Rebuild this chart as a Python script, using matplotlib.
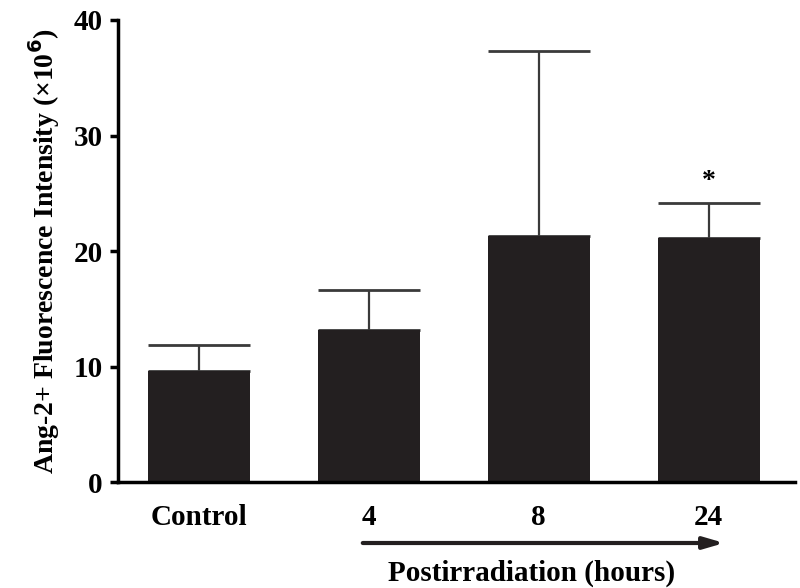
import matplotlib
matplotlib.use("Agg")
import matplotlib.pyplot as plt

groups = ["Control", "4", "8", "24"]
means = [9.6, 13.2, 21.3, 21.1]
errs = [2.3, 3.4, 16.0, 3.1]
stars = ["", "", "", "*"]

plt.rcParams['font.family'] = ['Liberation Serif', 'DejaVu Serif']
plt.rcParams['font.weight'] = 'bold'

fig = plt.figure(figsize=(8, 5.88), dpi=100)
ax = fig.add_axes([0.1475, 0.18, 0.8465, 0.786])

xs = range(len(groups))
ax.bar(xs, means, width=0.6, color="#231f20", zorder=2)
ax.errorbar(xs, means, yerr=[[0] * len(errs), errs], fmt="none",
            ecolor="#3a3a3a", elinewidth=1.6, capsize=37, capthick=2, zorder=1)
for x, m, e, s in zip(xs, means, errs, stars):
    if s:
        ax.text(x, m + e + 0.7, s, ha="center", va="bottom", fontsize=20)

ax.set_xlim(-0.476, 3.51)
ax.set_ylim(0, 40)
ax.set_yticks([0, 10, 20, 30, 40])
ax.set_xticks(list(xs))
ax.set_xticklabels(groups, fontsize=21, fontweight="bold")
ax.tick_params(axis="x", length=0, pad=16)
ax.tick_params(axis="y", length=6, width=2.5, labelsize=21, pad=5)
for lab in ax.get_yticklabels():
    lab.set_fontweight("bold")

for side in ["top", "right"]:
    ax.spines[side].set_visible(False)
ax.spines["left"].set_linewidth(2.5)
ax.spines["bottom"].set_linewidth(2.5)

ax.set_ylabel(r"Ang-2+ Fluorescence Intensity (×10$^{\mathbf{6}}$)",
              fontsize=20, fontweight="bold", labelpad=8)

# arrow under the time points
ax.annotate("", xy=(727 / 800, 1 - 543 / 588), xytext=(360 / 800, 1 - 543 / 588),
            xycoords="figure fraction", textcoords="figure fraction",
            arrowprops=dict(arrowstyle="-|>,head_length=1.2,head_width=0.35",
                            color="#231f20", lw=3))
fig.text(532 / 800, 1 - 573 / 588, "Postirradiation (hours)", ha="center",
         va="center", fontsize=21, fontweight="bold")

fig.savefig("out.png", dpi=100)
